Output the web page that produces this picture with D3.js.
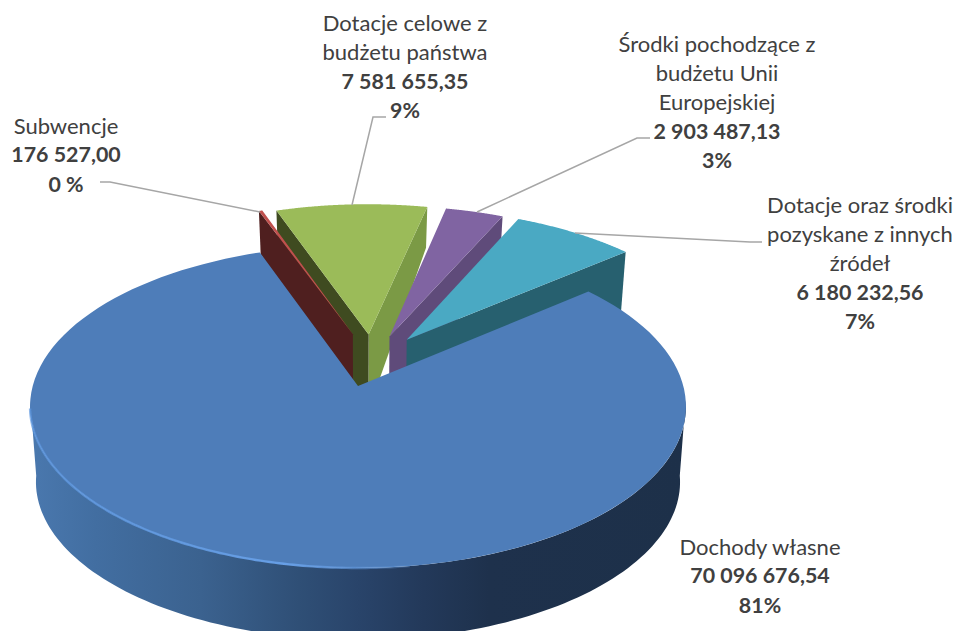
<!DOCTYPE html>
<html lang="pl">
<head>
<meta charset="utf-8">
<script src="https://cdn.jsdelivr.net/npm/d3@7"></script>
<style>
html,body{margin:0;padding:0;background:#fff;overflow:hidden}
svg{display:block}
text{font-family:Lato,"Open Sans",sans-serif;font-size:22px;fill:#404040;text-anchor:middle;dominant-baseline:central}
.b{font-weight:700;font-size:21.4px}
</style>
</head>
<body>
<svg id="c" width="956" height="631"></svg>
<script>
// ---- data ----
const categories = ["Dochody własne","Subwencje","Dotacje celowe z budżetu państwa","Środki pochodzące z budżetu Unii Europejskiej","Dotacje oraz środki pozyskane z innych źródeł"];
const seriesValues = [70096676.54,176527.00,7581655.35,2903487.13,6180232.56];
const nameLines = [["Dochody własne"],["Subwencje"],["Dotacje celowe z","budżetu państwa"],["Środki pochodzące z","budżetu Unii","Europejskiej"],["Dotacje oraz środki","pozyskane z innych","źródeł"]];
const valueLabels = ["70 096 676,54","176 527,00","7 581 655,35","2 903 487,13","6 180 232,56"];
const percentLabels = ["81%","0 %","9%","3%","7%"];
const topColors = ["#4E7DB9","#C0504D","#9BBB59","#8064A2","#4AA9C3"];

// ---- layout ----
const svg = d3.select("#c");
const rad = Math.PI/180;
const P = {cx:358, R:325.3, a:109.9, b:386, c:-0.1269, shrink:0.018, explode:0.34};
const drop = v => v >= -0.3 ? 76 - 4*Math.max(v,0) : 76 - 37*Math.pow((-v-0.3)/1.04,2);
function project(u,v,z){
  const w = 1 + P.c*v;
  const x = P.cx + P.R*u/w, y = (P.a*v+P.b)/w;
  return [P.cx + (x-P.cx)*(1-P.shrink*z), y + z*drop(v)];
}
const pie = d3.pie().sort(null).startAngle(50*rad).endAngle(410*rad);
const arcs = pie(seriesValues);
const line = d3.line();
const rim = (t,o,z) => project(Math.sin(t)+o[0], -Math.cos(t)+o[1], z);
const arcPts = (t0,t1,o,z) => d3.range(0,121).map(i => rim(t0+(t1-t0)*i/120,o,z));
const offset = d => {
  if (d.index===0) return [0,0];
  const mid = (d.startAngle+d.endAngle)/2;
  const dir = 7.5*rad + 0.53*(mid>Math.PI ? mid-2*Math.PI : mid);
  return [P.explode*Math.sin(dir), -P.explode*Math.cos(dir)];
};
const wall = (t,o) => line([project(o[0],o[1],0), rim(t,o,0), rim(t,o,1), project(o[0],o[1],1)])+"Z";
const face = (d,o) => line([project(o[0],o[1],0), ...arcPts(d.startAngle,d.endAngle,o,0)])+"Z";

// ---- gradients ----
const defs = svg.append("defs");
const wallGrad = defs.append("linearGradient").attr("id","wallGrad").attr("gradientUnits","userSpaceOnUse")
  .attr("x1",30).attr("x2",686).attr("y1",0).attr("y2",0);
[[0,"#4A78AE"],[0.1,"#426EA1"],[0.26,"#3B628F"],[0.41,"#2F4F76"],[0.5,"#29446A"],[0.6,"#23395A"],[0.7,"#1E314C"],[1,"#1D3049"]]
  .forEach(s => wallGrad.append("stop").attr("offset",s[0]).attr("stop-color",s[1]));
const rimGrad = defs.append("linearGradient").attr("id","rimGrad").attr("gradientUnits","userSpaceOnUse")
  .attr("x1",30).attr("x2",460).attr("y1",0).attr("y2",0);
[[0,"#5D97E0",0.7],[0.6,"#679FE6",1],[1,"#5A8ED0",0]]
  .forEach(s => rimGrad.append("stop").attr("offset",s[0]).attr("stop-color",s[1]).attr("stop-opacity",s[2]));
const soft = defs.append("filter").attr("id","soft").attr("x","-5%").attr("y","-5%").attr("width","110%").attr("height","110%");
soft.append("feGaussianBlur").attr("stdDeviation",0.7);

// ---- exploded slices, back to front ----
const wallSpec = [
  {i:2, t:"endAngle", fill:"#7B9A45"},
  {i:2, t:"startAngle", fill:"#3F4B20"},
  {i:2},
  {i:3, t:"endAngle", fill:"#5F4B7A"},
  {i:3},
  {i:4, t:"endAngle", fill:"#27606F"},
  {i:4},
  {i:1, t:"startAngle", fill:"#4F1F1F"},
  {i:1}
];
const g = svg.append("g");
wallSpec.forEach(s => {
  const d = arcs[s.i], o = offset(d);
  g.append("path")
    .attr("d", s.t ? wall(d[s.t],o) : face(d,o))
    .attr("fill", s.t ? s.fill : topColors[s.i]);
});

// ---- main slice ----
const main = arcs[0], o0 = [0,0];
const wallTop = arcPts(95*rad,265*rad,o0,0);
const wallBot = arcPts(95*rad,265*rad,o0,1).reverse();
g.append("path").attr("d", line([...wallTop,...wallBot])+"Z").attr("fill","url(#wallGrad)");
g.append("path").attr("d", face(main,o0)).attr("fill",topColors[0]);
g.append("path").attr("d", line(arcPts(172*rad,262*rad,o0,0))).attr("fill","none")
  .attr("stroke","url(#rimGrad)").attr("stroke-width",2.4).attr("stroke-linecap","butt").attr("filter","url(#soft)");

// ---- leader lines ----
const leaders = [
  [[100,182],[110,182],[260,212]],
  [[386,117],[373,117],[352,205]],
  [[650,138],[637,138],[477,212]],
  [[762,242],[750,242],[575,233]]
];
leaders.forEach(l => svg.append("path").attr("d",line(l)).attr("fill","none").attr("stroke","#A6A6A6").attr("stroke-width",1.5));

// ---- labels ----
const labelPos = [{x:760,y:546},{x:66,y:125},{x:405,y:22},{x:717,y:43},{x:860,y:204}];
const lineGap = 29.3;
arcs.forEach((d,i) => {
  const rows = [...nameLines[i].map(t=>({t,b:false})),{t:valueLabels[i],b:true},{t:percentLabels[i],b:true}];
  const t = svg.append("g");
  rows.forEach((r,j) => t.append("text").attr("x",labelPos[i].x).attr("y",labelPos[i].y+j*lineGap)
    .attr("class",r.b?"b":null).text(r.t));
});
</script>
</body>
</html>
